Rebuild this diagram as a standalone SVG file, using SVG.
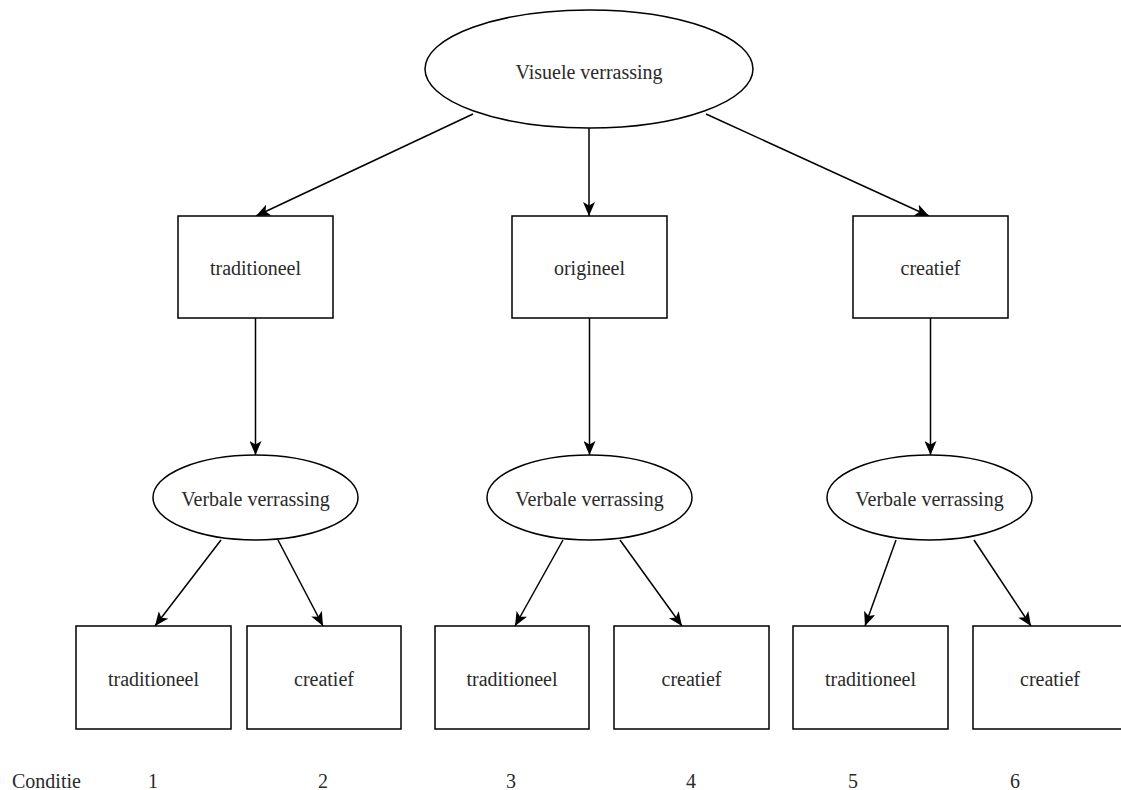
<svg xmlns="http://www.w3.org/2000/svg" width="1121" height="790" viewBox="0 0 1121 790">
<defs>
<style>
.n{fill:#fff;stroke:#000;stroke-width:1.5}
.t{font-family:"Liberation Serif","Times New Roman",serif;font-size:20px;fill:#2a2a2a;text-anchor:middle}
.c{stroke:#000;stroke-width:1.5;fill:none;marker-end:url(#ah)}
</style>
<marker id="ah" viewBox="0 0 14 12" refX="14" refY="6" markerWidth="14" markerHeight="12" markerUnits="userSpaceOnUse" orient="auto">
<path d="M0,0 L14,6 L0,12 L3.5,6 Z" fill="#000"/>
</marker>
</defs>
<rect width="1121" height="790" fill="#fff"/>
<g id="connectors">
<line class="c" x1="473" y1="114" x2="256" y2="216"/>
<line class="c" x1="589" y1="128" x2="589" y2="216"/>
<line class="c" x1="706" y1="114" x2="929" y2="216"/>
<line class="c" x1="255.5" y1="318" x2="255.5" y2="455"/>
<line class="c" x1="589.5" y1="318" x2="589.5" y2="455"/>
<line class="c" x1="930.5" y1="318" x2="930.5" y2="455"/>
<line class="c" x1="221" y1="540" x2="155" y2="626"/>
<line class="c" x1="278" y1="540" x2="323" y2="626"/>
<line class="c" x1="563" y1="540" x2="515" y2="626"/>
<line class="c" x1="620" y1="540" x2="682" y2="626"/>
<line class="c" x1="896" y1="540" x2="865" y2="626"/>
<line class="c" x1="974" y1="540" x2="1031" y2="626"/>
</g>
<g id="visuele">
<ellipse class="n" cx="589" cy="69" rx="164" ry="59"/>
<text class="t" x="589" y="79">Visuele verrassing</text>
</g>
<g id="traditioneel1">
<rect class="n" x="178" y="216" width="155" height="102"/>
<text class="t" x="255.5" y="275">traditioneel</text>
</g>
<g id="origineel">
<rect class="n" x="512" y="216" width="155" height="102"/>
<text class="t" x="589.5" y="275">origineel</text>
</g>
<g id="creatief1">
<rect class="n" x="853" y="216" width="155" height="102"/>
<text class="t" x="930.5" y="275">creatief</text>
</g>
<g id="verbale1">
<ellipse class="n" cx="255.5" cy="497.5" rx="102.5" ry="42.5"/>
<text class="t" x="255.5" y="506">Verbale verrassing</text>
</g>
<g id="verbale2">
<ellipse class="n" cx="589.5" cy="497.5" rx="102.5" ry="42.5"/>
<text class="t" x="589.5" y="506">Verbale verrassing</text>
</g>
<g id="verbale3">
<ellipse class="n" cx="929.5" cy="497.5" rx="102.5" ry="42.5"/>
<text class="t" x="929.5" y="506">Verbale verrassing</text>
</g>
<g id="c1">
<rect class="n" x="76" y="626" width="155" height="103"/>
<text class="t" x="153.5" y="686">traditioneel</text>
</g>
<g id="c2">
<rect class="n" x="247" y="626" width="154" height="103"/>
<text class="t" x="324" y="686">creatief</text>
</g>
<g id="c3">
<rect class="n" x="435" y="626" width="154" height="103"/>
<text class="t" x="512" y="686">traditioneel</text>
</g>
<g id="c4">
<rect class="n" x="614" y="626" width="155" height="103"/>
<text class="t" x="691.5" y="686">creatief</text>
</g>
<g id="c5">
<rect class="n" x="793" y="626" width="155" height="103"/>
<text class="t" x="870.5" y="686">traditioneel</text>
</g>
<g id="c6">
<rect class="n" x="973" y="626" width="155" height="103"/>
<text class="t" x="1050" y="686">creatief</text>
</g>
<g id="labels">
<text class="t" x="12" y="788" style="text-anchor:start">Conditie</text>
<text class="t" x="153" y="788">1</text>
<text class="t" x="323" y="788">2</text>
<text class="t" x="511" y="788">3</text>
<text class="t" x="691" y="788">4</text>
<text class="t" x="853" y="788">5</text>
<text class="t" x="1015" y="788">6</text>
</g>
</svg>
